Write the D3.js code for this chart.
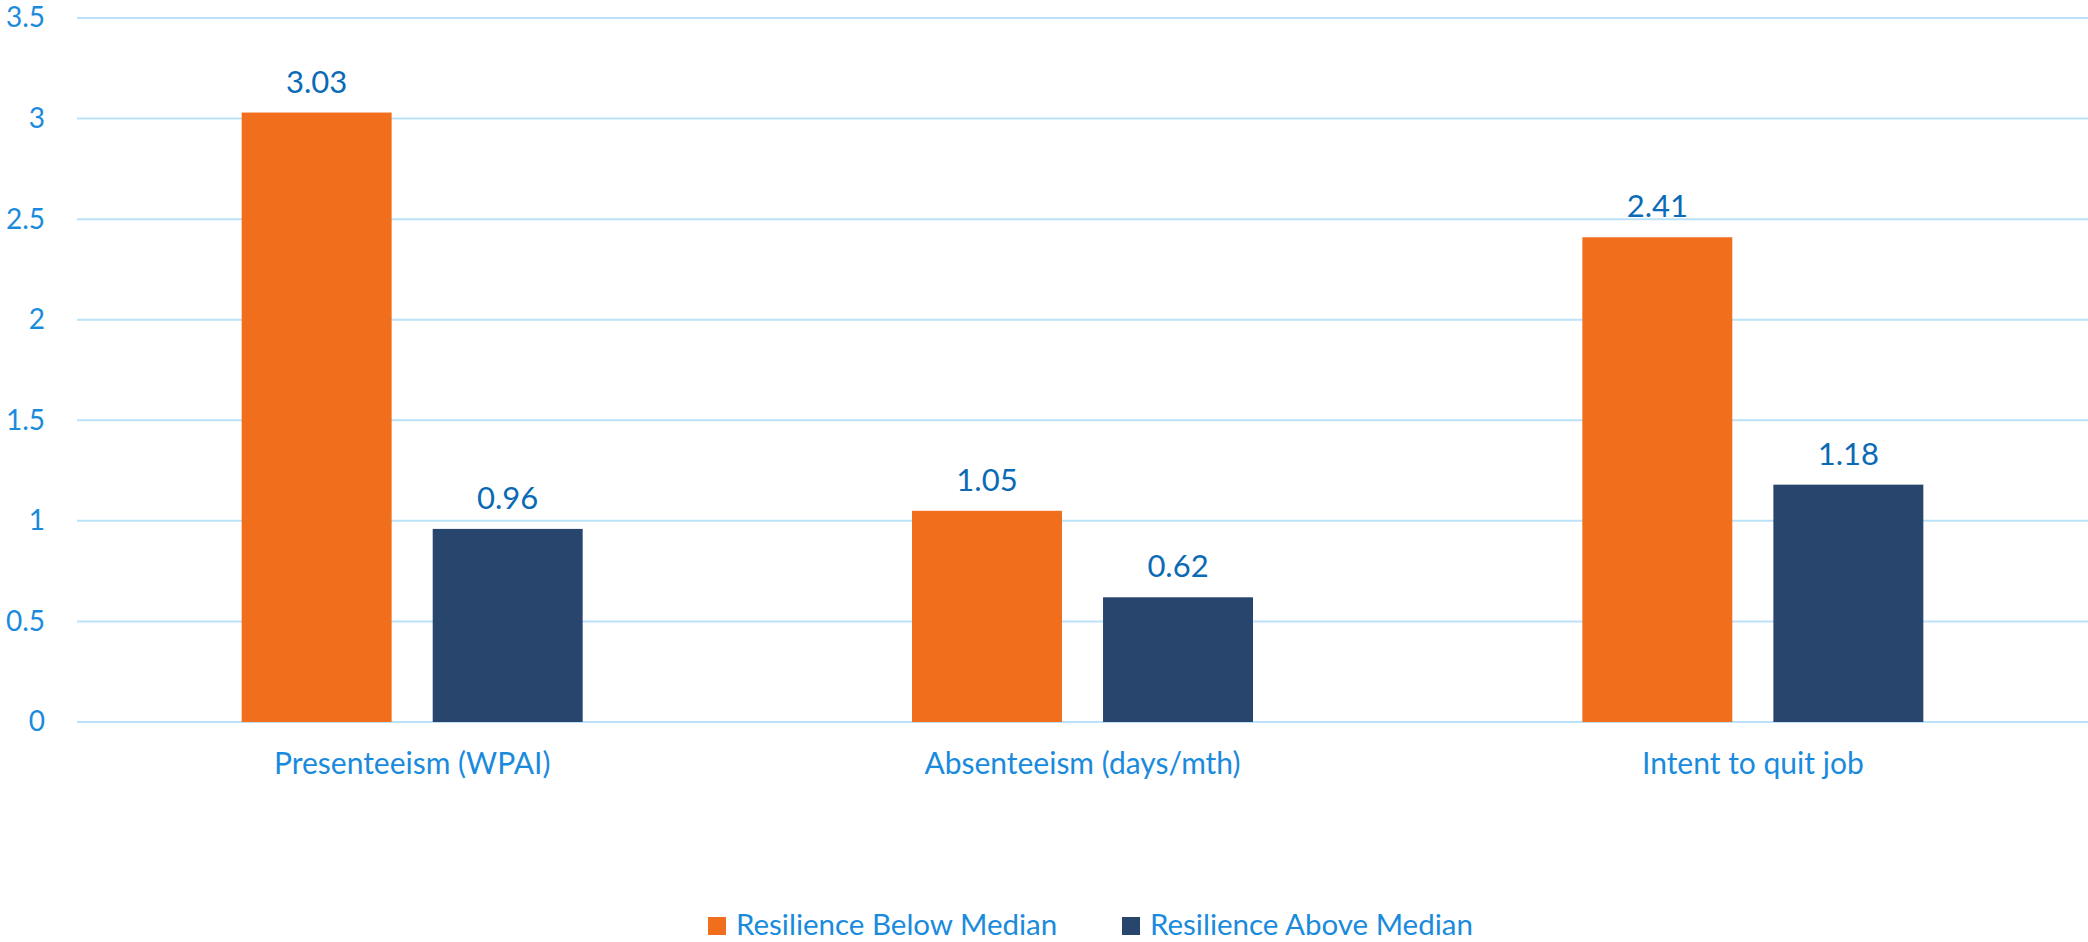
<!DOCTYPE html>
<html lang="en">
<head>
    <meta charset="UTF-8">
    <title>Resilience chart</title>
    <script src="https://d3js.org/d3.v7.min.js"></script>
    <style>
        body {
            margin: 0;
            background-color: white;
            font-family: Lato, "Open Sans", sans-serif;
        }
    </style>
</head>
<body>
    <div id="chart"></div>

    <script>
        // data
        const categories = ["Presenteeism (WPAI)", "Absenteeism (days/mth)", "Intent to quit job"];
        const seriesNames = ["Resilience Below Median", "Resilience Above Median"];
        const belowMedian = [3.03, 1.05, 2.41];
        const aboveMedian = [0.96, 0.62, 1.18];
        const yTicks = [0, 0.5, 1, 1.5, 2, 2.5, 3, 3.5];

        const colors = ["#F06E1C", "#28456E"];
        const width = 2088, height = 942;
        const margin = { top: 18, right: 0, bottom: 220, left: 77 };

        const svg = d3.select("#chart")
            .append("svg")
            .attr("width", width)
            .attr("height", height);

        const rows = categories.map((c, i) => ({
            category: c,
            values: [belowMedian[i], aboveMedian[i]]
        }));

        const x = d3.scaleBand()
            .domain(categories)
            .range([margin.left, width - margin.right]);

        const x1 = d3.scaleBand()
            .domain(d3.range(seriesNames.length))
            .range([0, x.bandwidth()])
            .paddingInner(0.215)
            .paddingOuter(0.862);

        const y = d3.scaleLinear()
            .domain([0, 3.5])
            .range([height - margin.bottom, margin.top]);

        // gridlines
        svg.append("g")
            .selectAll("line")
            .data(yTicks)
            .join("line")
            .attr("x1", margin.left)
            .attr("x2", width - margin.right)
            .attr("y1", d => y(d))
            .attr("y2", d => y(d))
            .attr("stroke", "#BBE2F8")
            .attr("stroke-width", 2);

        // y axis labels
        const yAxis = svg.append("g")
            .attr("transform", `translate(45,0)`)
            .call(d3.axisLeft(y).tickValues(yTicks).tickSize(0).tickPadding(0).tickFormat(d3.format("")));
        yAxis.select(".domain").remove();
        yAxis.selectAll("text")
            .attr("fill", "#1A8BDC")
            .style("font-family", "Lato, sans-serif")
            .style("font-size", "28px");

        // bars
        const groups = svg.append("g")
            .selectAll("g")
            .data(rows)
            .join("g")
            .attr("transform", d => `translate(${x(d.category)},0)`);

        groups.selectAll("rect")
            .data(d => d.values)
            .join("rect")
            .attr("x", (d, i) => x1(i))
            .attr("width", x1.bandwidth())
            .attr("y", d => y(d))
            .attr("height", d => y(0) - y(d))
            .attr("fill", (d, i) => colors[i]);

        groups.selectAll("text")
            .data(d => d.values)
            .join("text")
            .attr("x", (d, i) => x1(i) + x1.bandwidth() / 2)
            .attr("y", d => y(d) - 20)
            .attr("text-anchor", "middle")
            .attr("fill", "#0B6AB5")
            .style("font-size", "31px")
            .text(d => d3.format(".2f")(d));

        // x axis labels
        const xAxis = svg.append("g")
            .attr("transform", `translate(0,${y(0)})`)
            .call(d3.axisBottom(x).tickSize(0).tickPadding(0));
        xAxis.select(".domain").remove();
        xAxis.selectAll("text")
            .attr("dy", null)
            .attr("y", 52)
            .attr("fill", "#1A8BDC")
            .style("font-family", "Lato, sans-serif")
            .style("font-size", "30px");

        // legend
        const legendX = [708, 1122];
        const legend = svg.append("g")
            .selectAll("g")
            .data(seriesNames)
            .join("g")
            .attr("transform", (d, i) => `translate(${legendX[i]},917)`);

        legend.append("rect")
            .attr("width", 18)
            .attr("height", 18)
            .attr("fill", (d, i) => colors[i]);

        legend.append("text")
            .attr("x", 28)
            .attr("y", 18)
            .attr("fill", "#1A8BDC")
            .style("font-size", "29.5px")
            .text(d => d);
    </script>
</body>
</html>
